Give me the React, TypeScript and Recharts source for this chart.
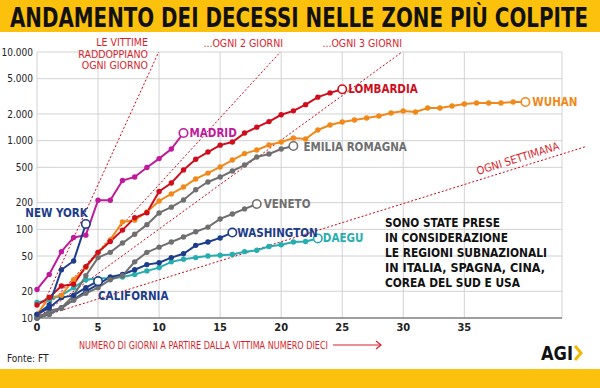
import { LineChart, Line, XAxis, YAxis, CartesianGrid, ReferenceLine } from "recharts"

// deaths by days since the 10th death
const lombardia = [14, 17, 23, 24, 38, 55, 73, 98, 135, 154, 267, 333, 468, 617, 744, 890, 966, 1218, 1420, 1640, 1959, 2168, 2549, 3095, 3456, 3800]
const madrid = [21, 31, 56, 81, 86, 213, 213, 355, 390, 498, 628, 804, 1220]
const newYork = [11, 14, 35, 44, 115]
const california = [11, 13, 17, 18, 22, 26]
const washington = [10, 11, 13, 16, 20, 24, 29, 31, 35, 40, 42, 48, 53, 66, 72, 80, 92]
const daegu = [15, 16, 18, 22, 27, 28, 28, 29, 31, 34, 37, 43, 46, 48, 50, 51, 52, 56, 58, 64, 67, 72, 73, 79]
const veneto = [10, 11, 13, 16, 19, 22, 27, 30, 43, 55, 63, 72, 82, 94, 106, 131, 149, 170, 193]
const emiliaRomagna = [10, 12, 13, 18, 30, 48, 55, 70, 88, 113, 153, 178, 214, 280, 342, 389, 455, 531, 654, 707, 805, 871]
const wuhan = [11, 17, 18, 27, 37, 55, 76, 121, 127, 157, 209, 251, 300, 370, 431, 505, 605, 715, 785, 894, 966, 1072, 1045, 1320, 1503, 1623, 1710, 1800, 1900, 2051, 2160, 2105, 2335, 2335, 2460, 2590, 2660, 2660, 2660, 2730, 2730]

const xTicks = [0, 5, 10, 15, 20, 25, 30, 35]
const yTicks = [10, 20, 50, 100, 200, 500, 1000, 2000, 5000, 10000]
const doublingDays = [1, 2, 3, 7]

const FONT = "'Liberation Sans Narrow', 'DejaVu Sans Condensed', Roboto, sans-serif"
const RED = "#d71f2c"
const NAVY = "#1c3c8c"
const GRAY = "#6f6f6f"

const series = [
    { key: "daegu", label: "DAEGU", color: "#27adb0", values: daegu, dx: 5, dy: 4, anchor: "start" },
    { key: "washington", label: "WASHINGTON", color: NAVY, values: washington, dx: 5, dy: 4, anchor: "start" },
    { key: "veneto", label: "VENETO", color: GRAY, values: veneto, dx: 7, dy: 4, anchor: "start" },
    { key: "emiliaRomagna", label: "EMILIA ROMAGNA", color: GRAY, values: emiliaRomagna, dx: 10, dy: 5, anchor: "start" },
    { key: "california", label: "CALIFORNIA", color: NAVY, values: california, dx: 0, dy: 19, anchor: "start" },
    { key: "wuhan", label: "WUHAN", color: "#f0891a", values: wuhan, dx: 7, dy: 4, anchor: "start" },
    { key: "lombardia", label: "LOMBARDIA", color: "#cf0d1c", values: lombardia, dx: 6, dy: 4, anchor: "start" },
    { key: "madrid", label: "MADRID", color: "#c01a9a", values: madrid, dx: 6, dy: 4, anchor: "start" },
    { key: "newYork", label: "NEW YORK", color: NAVY, values: newYork, dx: 2, dy: -7, anchor: "end" },
]

const table = wuhan.map((_, day) => {
    const row: any = { day }
    series.forEach((s) => {
        row[s.key] = s.values[day]
    })
    return row
})

const fmt = (v: number) => String(v).replace(/\B(?=(\d{3})+(?!\d))/g, ".")

const makeDot = (s: any) => (props: any) => {
    const { cx, cy, index, payload } = props
    const k = `${s.key}-${index}`
    if (payload == null || payload[s.key] == null || cx == null || cy == null) return <g key={k} />
    if (index === s.values.length - 1) {
        return (
            <g key={k}>
                <circle cx={cx} cy={cy} r={4.2} fill="#fff" stroke={s.color} strokeWidth={1.6} />
                <text x={cx + s.dx} y={cy + s.dy} textAnchor={s.anchor} fill={s.color}
                    style={{ fontFamily: FONT, fontSize: 11.5, fontWeight: 700 }}>
                    {s.label}
                </text>
            </g>
        )
    }
    return <circle key={k} cx={cx} cy={cy} r={2.7} fill={s.color} />
}

const refSegment = (d: number) => {
    const full = d * Math.log2(1000)
    if (full <= 43) return [{ x: 0, y: 10 }, { x: full, y: 10000 }]
    return [{ x: 0, y: 10 }, { x: 45, y: 10 * Math.pow(2, 45 / d) }]
}

const tickStyle = { fontSize: 10, fill: "#222", fontFamily: FONT }

export default function App() {
    return (
        <div style={{ position: "relative", width: 600, height: 388, background: "#fff", overflow: "hidden" }}>
            <style>{"body{margin:0}"}</style>
            <LineChart width={600} height={388} data={table} margin={{ top: 52, right: 0, bottom: 50, left: 0 }}>
                <CartesianGrid stroke="#d2d2d2" />
                <XAxis type="number" dataKey="day" domain={[0, 43]} ticks={xTicks} interval={0}
                    height={20} tickLine={false} tickSize={3}
                    axisLine={{ stroke: "#555" }}
                    tick={{ ...tickStyle, fontSize: 11, fontWeight: 700 }} />
                <YAxis scale="log" domain={[10, 10000]} ticks={yTicks} interval={0}
                    width={37} axisLine={false} tickLine={false} tickSize={2} tickMargin={2}
                    tickFormatter={fmt} tick={tickStyle} />
                <YAxis yAxisId="right" orientation="right" scale="log" domain={[10, 10000]} ticks={yTicks}
                    interval={0} width={38} axisLine={false}
                    tickLine={{ stroke: "#777" }} tickSize={4} tickMargin={2}
                    tickFormatter={fmt} tick={tickStyle} />
                {doublingDays.map((d) => (
                    <ReferenceLine key={d} segment={refSegment(d)} stroke="#d0021b" strokeWidth={1}
                        strokeDasharray="2 2" ifOverflow="visible" />
                ))}
                {series.map((s) => (
                    <Line key={s.key} type="linear" dataKey={s.key} stroke={s.color} strokeWidth={2}
                        dot={makeDot(s)} activeDot={false} isAnimationActive={false} />
                ))}
            </LineChart>

            <svg width={600} height={388} style={{ position: "absolute", left: 0, top: 0, pointerEvents: "none" }}
                fontFamily={FONT}>
                <rect x={0} y={0} width={600} height={32} fill="#fcc10c" />
                <text x={10} y={27} fontSize={27} fontWeight={700} fill="#111"
                    textLength={578} lengthAdjust="spacingAndGlyphs"
                    style={{ fontFamily: "'DejaVu Sans Condensed', 'DejaVu Sans', sans-serif" }}>
                    ANDAMENTO DEI DECESSI NELLE ZONE PIÙ COLPITE
                </text>

                <g fill={RED} fontSize={10.5} textAnchor="end">
                    <text x={148} y={46}>LE VITTIME</text>
                    <text x={148} y={57.5}>RADDOPPIANO</text>
                    <text x={148} y={69}>OGNI GIORNO</text>
                    <text x={283} y={47}>...OGNI 2 GIORNI</text>
                    <text x={402} y={47}>...OGNI 3 GIORNI</text>
                </g>
                <text x={519} y={162} fill={RED} fontSize={11} textAnchor="middle"
                    transform="rotate(-17.5 519 162)">OGNI SETTIMANA</text>

                <g fill="#111" fontSize={13} fontWeight={700}>
                    <text x={385} y={227} textLength={115} lengthAdjust="spacingAndGlyphs">SONO STATE PRESE</text>
                    <text x={385} y={242} textLength={123} lengthAdjust="spacingAndGlyphs">IN CONSIDERAZIONE</text>
                    <text x={385} y={257} textLength={162} lengthAdjust="spacingAndGlyphs">LE REGIONI SUBNAZIONALI</text>
                    <text x={385} y={272} textLength={160} lengthAdjust="spacingAndGlyphs">IN ITALIA, SPAGNA, CINA,</text>
                    <text x={385} y={287} textLength={135} lengthAdjust="spacingAndGlyphs">COREA DEL SUD E USA</text>
                </g>

                <text x={79} y={349} fill={RED} fontSize={11} textLength={249} lengthAdjust="spacingAndGlyphs">
                    NUMERO DI GIORNI A PARTIRE DALLA VITTIMA NUMERO DIECI
                </text>
                <line x1={333} y1={345} x2={381} y2={345} stroke={RED} strokeWidth={1.2} />
                <polyline points="376,341 381,345 376,349" fill="none" stroke={RED} strokeWidth={1.2} />

                <text x={7} y={362} fill="#222" fontSize={10}>Fonte: FT</text>
                <text x={541} y={360} fill="#111" fontSize={20} fontWeight={700}
                    textLength={32} lengthAdjust="spacingAndGlyphs">AGI</text>
                <polyline points="575,346 581,353 575,360" fill="none" stroke="#f5b800" strokeWidth={3} />

                <rect x={0} y={369} width={600} height={19} fill="#fcc10c" />
            </svg>
        </div>
    )
}
